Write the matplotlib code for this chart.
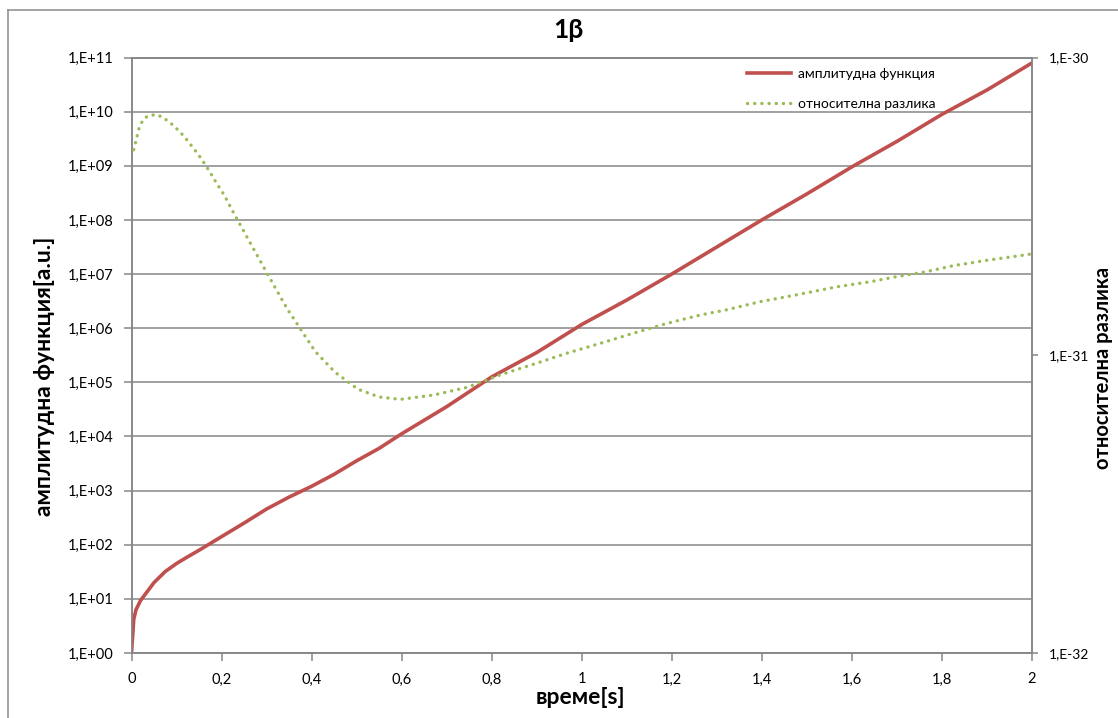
import math
import matplotlib
matplotlib.use("Agg")
import matplotlib.pyplot as plt
from matplotlib.ticker import FixedLocator, FuncFormatter, NullLocator
from matplotlib.lines import Line2D

# amplitude function (left axis)
amp_t = [0, 0.005, 0.01, 0.02, 0.03, 0.05, 0.075, 0.1, 0.125, 0.15, 0.2, 0.25,
         0.3, 0.35, 0.4, 0.45, 0.5, 0.55, 0.6, 0.7, 0.8, 0.9, 1.0, 1.1, 1.2,
         1.3, 1.4, 1.5, 1.6, 1.7, 1.8, 1.9, 2.0]
amp_val = [1.0, 4.2, 6.3, 9.3, 12, 20, 32, 45, 60, 79, 141, 251,
           457, 759, 1200, 2000, 3550, 6030, 1.12e4, 3.55e4, 1.26e5, 3.55e5,
           1.17e6, 3.31e6, 1.0e7, 3.16e7, 1.0e8, 3.02e8, 9.55e8, 2.82e9,
           8.91e9, 2.51e10, 7.94e10]

# relative difference (right axis)
rel_t = [0.005, 0.01, 0.018, 0.028, 0.038, 0.054, 0.069, 0.094, 0.117, 0.137,
         0.156, 0.173, 0.19, 0.207, 0.222, 0.237, 0.253, 0.268, 0.284, 0.299,
         0.315, 0.346, 0.373, 0.408, 0.452, 0.503, 0.55, 0.597, 0.671, 0.745,
         0.819, 0.893, 0.967, 1.041, 1.115, 1.189, 1.263, 1.32, 1.397, 1.474,
         1.567, 1.641, 1.7, 1.763, 1.826, 1.9, 1.994]
rel_val = [4.90e-31, 5.25e-31, 5.89e-31, 6.24e-31, 6.38e-31, 6.43e-31, 6.31e-31,
           5.90e-31, 5.43e-31, 4.97e-31, 4.55e-31, 4.15e-31, 3.76e-31, 3.43e-31,
           3.10e-31, 2.82e-31, 2.55e-31, 2.32e-31, 2.10e-31, 1.91e-31, 1.73e-31,
           1.43e-31, 1.24e-31, 1.03e-31, 8.77e-32, 7.69e-32, 7.24e-32, 7.11e-32,
           7.35e-32, 7.80e-32, 8.59e-32, 9.33e-32, 1.016e-31, 1.096e-31,
           1.186e-31, 1.279e-31, 1.365e-31, 1.419e-31, 1.514e-31, 1.592e-31,
           1.698e-31, 1.766e-31, 1.837e-31, 1.905e-31, 2.000e-31, 2.084e-31,
           2.183e-31]

x_ticks = [0, 0.2, 0.4, 0.6, 0.8, 1.0, 1.2, 1.4, 1.6, 1.8, 2.0]
left_ticks = [10.0 ** k for k in range(0, 12)]
right_ticks = [1e-32, 1e-31, 1e-30]

title = "1β"
x_label = "време[s]"
left_label = "амплитудна функция[a.u.]"
right_label = "относителна разлика"
amp_name = "амплитудна функция"
rel_name = "относителна разлика"

plt.rcParams["font.family"] = ["Lato", "DejaVu Sans"]

W, H = 1118, 718
fig = plt.figure(figsize=(W / 100, H / 100), dpi=100)
ax = fig.add_axes([131.5 / W, 1 - 653 / H, (1032 - 131.5) / W, (653 - 57.5) / H])
ax2 = ax.twinx()

grid_c = "#868686"
red = "#C0504D"
green = "#9BBB59"

ax.set_yscale("log")
ax.set_xlim(0, 2)
ax.set_ylim(1, 1e11)
ax.yaxis.set_major_locator(FixedLocator(left_ticks))
ax.yaxis.set_minor_locator(NullLocator())
ax.xaxis.set_major_locator(FixedLocator(x_ticks))


def exp_fmt(v, pos):
    e = int(round(math.log10(v)))
    return "1,E%+03d" % e


ax.yaxis.set_major_formatter(FuncFormatter(exp_fmt))
ax.xaxis.set_major_formatter(FuncFormatter(lambda v, p: ("%g" % v).replace(".", ",")))
ax.grid(True, axis="y", color=grid_c, linewidth=1.1)
ax.set_axisbelow(True)

ax2.set_yscale("log")
ax2.set_ylim(1e-32, 1e-30)
ax2.yaxis.set_major_locator(FixedLocator(right_ticks))
ax2.yaxis.set_minor_locator(NullLocator())
ax2.yaxis.set_major_formatter(FuncFormatter(exp_fmt))

for a in (ax, ax2):
    for s in a.spines.values():
        s.set_color(grid_c)
        s.set_linewidth(1.1)
    a.tick_params(axis="both", which="major", colors=grid_c, labelcolor="black",
                  labelsize=10.5, length=6, width=1.1)
ax.tick_params(axis="y", pad=7)
ax.tick_params(axis="x", pad=8)
ax2.tick_params(axis="y", labelsize=10, length=4, pad=8)

ax.plot(amp_t, amp_val, color=red, linewidth=2.6, solid_capstyle="round",
        solid_joinstyle="round", zorder=3)
ax2.plot(rel_t, rel_val, color=green, linewidth=2.4, linestyle=(0, (0.05, 2.1)),
         dash_capstyle="round", zorder=3)

fig.text(568 / W, 1 - 30 / H, title, ha="center", va="center",
         fontsize=19, fontweight="bold")
fig.text(580 / W, 1 - 697 / H, x_label, ha="center", va="center",
         fontsize=16.5, fontweight="bold")
fig.text(45 / W, 1 - 376 / H, left_label, ha="center", va="center",
         rotation=90, fontsize=16.5, fontweight="bold")
fig.text(1103 / W, 1 - 368 / H, right_label, ha="center", va="center",
         rotation=90, fontsize=14.5, fontweight="bold")

handles = [
    Line2D([], [], color=red, linewidth=2.6),
    Line2D([], [], color=green, linewidth=2.4, linestyle=(0, (0.05, 2.1)),
           dash_capstyle="round"),
]
fig.legend(handles, [amp_name, rel_name], loc="upper left",
           bbox_to_anchor=(734 / W, 1 - 55 / H), frameon=False, fontsize=10,
           handlelength=3.2, handletextpad=0.5, labelspacing=1.3)

# chart area border
fig.add_artist(Line2D([8 / W, 8 / W], [0, 1 - 10 / H], color="#8c8c8c",
                      linewidth=1.1, transform=fig.transFigure))
fig.add_artist(Line2D([8 / W, 1], [1 - 10 / H, 1 - 10 / H], color="#8c8c8c",
                      linewidth=1.1, transform=fig.transFigure))

fig.savefig("out.png", dpi=100, facecolor="white")
